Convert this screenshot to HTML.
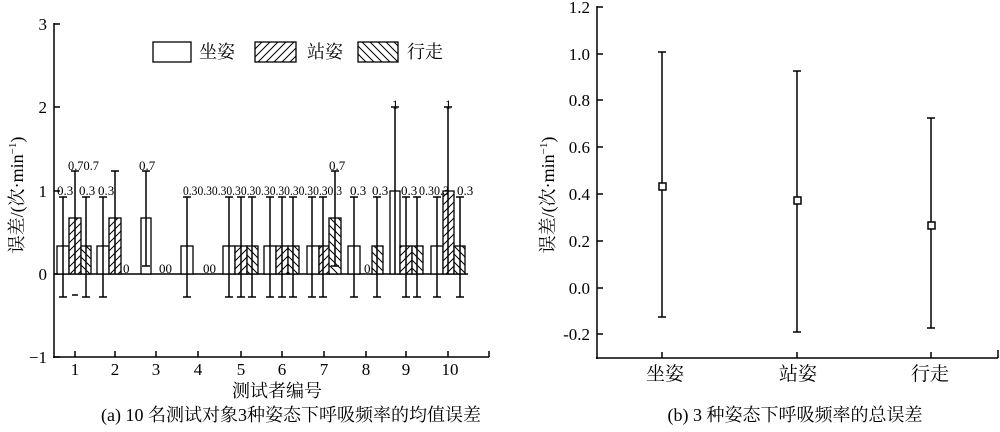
<!DOCTYPE html>
<html><head><meta charset="utf-8"><style>
html,body{margin:0;padding:0;background:#fff}
svg{display:block}
text{font-family:"Liberation Serif","Noto Serif CJK SC",serif;fill:#000}
.cj{font-family:"Liberation Serif","Noto Serif CJK SC",serif}
</style></head><body>
<svg width="1000" height="432" viewBox="0 0 1000 432" xmlns="http://www.w3.org/2000/svg">
<defs>
<pattern id="fw" patternUnits="userSpaceOnUse" width="8" height="8"><rect width="8" height="8" fill="#fff"/><path d="M-2,2 L2,-2 M0,8 L8,0 M6,10 L10,6" stroke="#000" stroke-width="1"/></pattern>
<pattern id="bw" patternUnits="userSpaceOnUse" width="8" height="8"><rect width="8" height="8" fill="#fff"/><path d="M-2,6 L2,10 M0,0 L8,8 M6,-2 L10,2" stroke="#000" stroke-width="1"/></pattern>
</defs>
<g stroke="#000" stroke-width="1.5" fill="none">
<line x1="54" y1="23" x2="54" y2="358"/>
<line x1="53" y1="357" x2="489" y2="357"/>
<line x1="54" y1="24" x2="60" y2="24"/><line x1="54" y1="107" x2="60" y2="107"/><line x1="54" y1="191" x2="60" y2="191"/><line x1="54" y1="274" x2="60" y2="274"/><line x1="54" y1="357" x2="60" y2="357"/>
<path d="M75,357V351M115,357V351M156,357V351M198,357V351M241,357V351M282,357V351M324,357V351M366,357V351M406,357V351M448,357V351M489,357V351"/>
<line x1="54" y1="274" x2="468" y2="274"/>
</g>
<g stroke="#000" stroke-width="1.3">
<rect x="57" y="246" width="12" height="28" fill="#fff"/><rect x="69" y="218" width="12" height="56" fill="url(#fw)"/><rect x="81" y="246" width="10" height="28" fill="url(#bw)"/>
<rect x="97" y="246" width="12" height="28" fill="#fff"/><rect x="109" y="218" width="12" height="56" fill="url(#fw)"/>
<rect x="141" y="218" width="10" height="56" fill="#fff"/>
<rect x="181" y="246" width="12" height="28" fill="#fff"/>
<rect x="223" y="246" width="12" height="28" fill="#fff"/><rect x="235" y="246" width="12" height="28" fill="url(#fw)"/><rect x="247" y="246" width="11" height="28" fill="url(#bw)"/>
<rect x="264" y="246" width="12" height="28" fill="#fff"/><rect x="276" y="246" width="12" height="28" fill="url(#fw)"/><rect x="288" y="246" width="11" height="28" fill="url(#bw)"/>
<rect x="307" y="246" width="12" height="28" fill="#fff"/><rect x="319" y="246" width="11" height="28" fill="url(#fw)"/><rect x="329" y="218" width="12" height="56" fill="url(#bw)"/>
<rect x="348" y="246" width="12" height="28" fill="#fff"/><rect x="372" y="246" width="11" height="28" fill="url(#bw)"/>
<rect x="390" y="191" width="10" height="83" fill="#fff"/><rect x="400" y="246" width="12" height="28" fill="url(#fw)"/><rect x="412" y="246" width="11" height="28" fill="url(#bw)"/>
<rect x="431" y="246" width="12" height="28" fill="#fff"/><rect x="443" y="191" width="11" height="83" fill="url(#fw)"/><rect x="454" y="246" width="11" height="28" fill="url(#bw)"/>
</g>
<g stroke="#000" stroke-width="1.5" fill="none">
<path d="M63,197V297M59,197H67M59,297H67
M86,197V297M82,197H90M82,297H90
M103,197V297M99,197H107M99,297H107
M187,197V297M183,197H191M183,297H191
M229,197V297M225,197H233M225,297H233
M241,197V297M237,197H245M237,297H245
M252,197V297M248,197H256M248,297H256
M270,197V297M266,197H274M266,297H274
M282,197V297M278,197H286M278,297H286
M293,197V297M289,197H297M289,297H297
M312,197V297M308,197H316M308,297H316
M323,197V297M319,197H327M319,297H327
M354,197V297M350,197H358M350,297H358
M377,197V297M373,197H381M373,297H381
M406,197V297M402,197H410M402,297H410
M417,197V297M413,197H421M413,297H421
M437,197V297M433,197H441M433,297H441
M460,197V297M456,197H464M456,297H464"/>
<path d="M75,171V274M71,171H79M72,295H78
M115,171V274M111,171H119
M146,171V266M142,171H150M142,266H150
M335,171V266M331,171H339M331,266H339
M395,107V274M391,107H399
M448,107V274M444,107H452"/>
</g>
<g font-size="13">
<text x="57" y="195">0.3</text><text x="79" y="195">0.3</text><text x="98" y="195">0.3</text>
<text x="183" y="195" textLength="159" lengthAdjust="spacingAndGlyphs">0.30.30.30.30.30.30.30.30.30.30.3</text>
<text x="350" y="195">0.3</text><text x="372" y="195">0.3</text><text x="401" y="195">0.3</text>
<text x="419" y="195" textLength="30" lengthAdjust="spacingAndGlyphs">0.30.3</text><text x="457" y="195">0.3</text>
<text x="68" y="170" textLength="31" lengthAdjust="spacingAndGlyphs">0.70.7</text><text x="139" y="170">0.7</text><text x="329" y="170">0.7</text>
<text x="392" y="109">1</text><text x="445" y="109">1</text>
<text x="123" y="273">0</text><text x="159" y="273">00</text><text x="203" y="273">00</text><text x="364" y="273">0</text>
</g>
<g font-size="17">
<text x="47" y="30" text-anchor="end">3</text><text x="47" y="113" text-anchor="end">2</text><text x="47" y="197" text-anchor="end">1</text><text x="47" y="280" text-anchor="end">0</text><text x="47" y="363" text-anchor="end">−1</text>
<g text-anchor="middle"><text x="75" y="375">1</text><text x="115" y="375">2</text><text x="156" y="375">3</text><text x="198" y="375">4</text><text x="241" y="375">5</text><text x="282" y="375">6</text><text x="324" y="375">7</text><text x="366" y="375">8</text><text x="406" y="375">9</text><text x="450" y="375">10</text></g>
</g>
<text class="cj" x="277" y="397" font-size="18" text-anchor="middle">测试者编号</text>
<text class="cj" x="291" y="421" font-size="18" text-anchor="middle">(a) 10 名测试对象3种姿态下呼吸频率的均值误差</text>
<text class="cj" font-size="18" transform="translate(23,195) rotate(-90)" text-anchor="middle">误差/(次·min<tspan font-size="11" dy="-7">−1</tspan><tspan dy="7">)</tspan></text>
<g stroke="#000" stroke-width="1.3"><rect x="153" y="42" width="38" height="20" fill="#fff"/><rect x="255" y="42" width="41" height="20" fill="url(#fw)"/><rect x="358" y="42" width="40" height="20" fill="url(#bw)"/></g>
<g font-size="18"><text class="cj" x="199" y="58">坐姿</text><text class="cj" x="307" y="58">站姿</text><text class="cj" x="407" y="58">行走</text></g>

<g stroke="#000" stroke-width="1.5" fill="none">
<line x1="597" y1="6" x2="597" y2="359"/>
<line x1="596" y1="358" x2="998" y2="358"/>
<path d="M597,7H603M597,54H603M597,100H603M597,147H603M597,194H603M597,241H603M597,288H603M597,334H603"/>
<path d="M662,358V352M797,358V352M931,358V352M998,358V350"/>
<path d="M662,52V317M658,52H666M658,317H666
M797,71V332M793,71H801M793,332H801
M931,118V328M927,118H935M927,328H935"/>
<rect x="659" y="183" width="7" height="7" fill="#fff"/>
<rect x="794" y="197" width="7" height="7" fill="#fff"/>
<rect x="928" y="222" width="7" height="7" fill="#fff"/>
</g>
<g font-size="17" text-anchor="end">
<text x="590" y="13">1.2</text><text x="590" y="60">1.0</text><text x="590" y="106">0.8</text><text x="590" y="153">0.6</text><text x="590" y="200">0.4</text><text x="590" y="247">0.2</text><text x="590" y="294">0.0</text><text x="590" y="340">-0.2</text>
</g>
<g font-size="19" text-anchor="middle"><text class="cj" x="665" y="380">坐姿</text><text class="cj" x="798" y="380">站姿</text><text class="cj" x="930" y="380">行走</text></g>
<text class="cj" x="795" y="421" font-size="18" text-anchor="middle">(b) 3 种姿态下呼吸频率的总误差</text>
<text class="cj" font-size="18" transform="translate(554,195) rotate(-90)" text-anchor="middle">误差/(次·min<tspan font-size="11" dy="-7">−1</tspan><tspan dy="7">)</tspan></text>
</svg>
</body></html>
